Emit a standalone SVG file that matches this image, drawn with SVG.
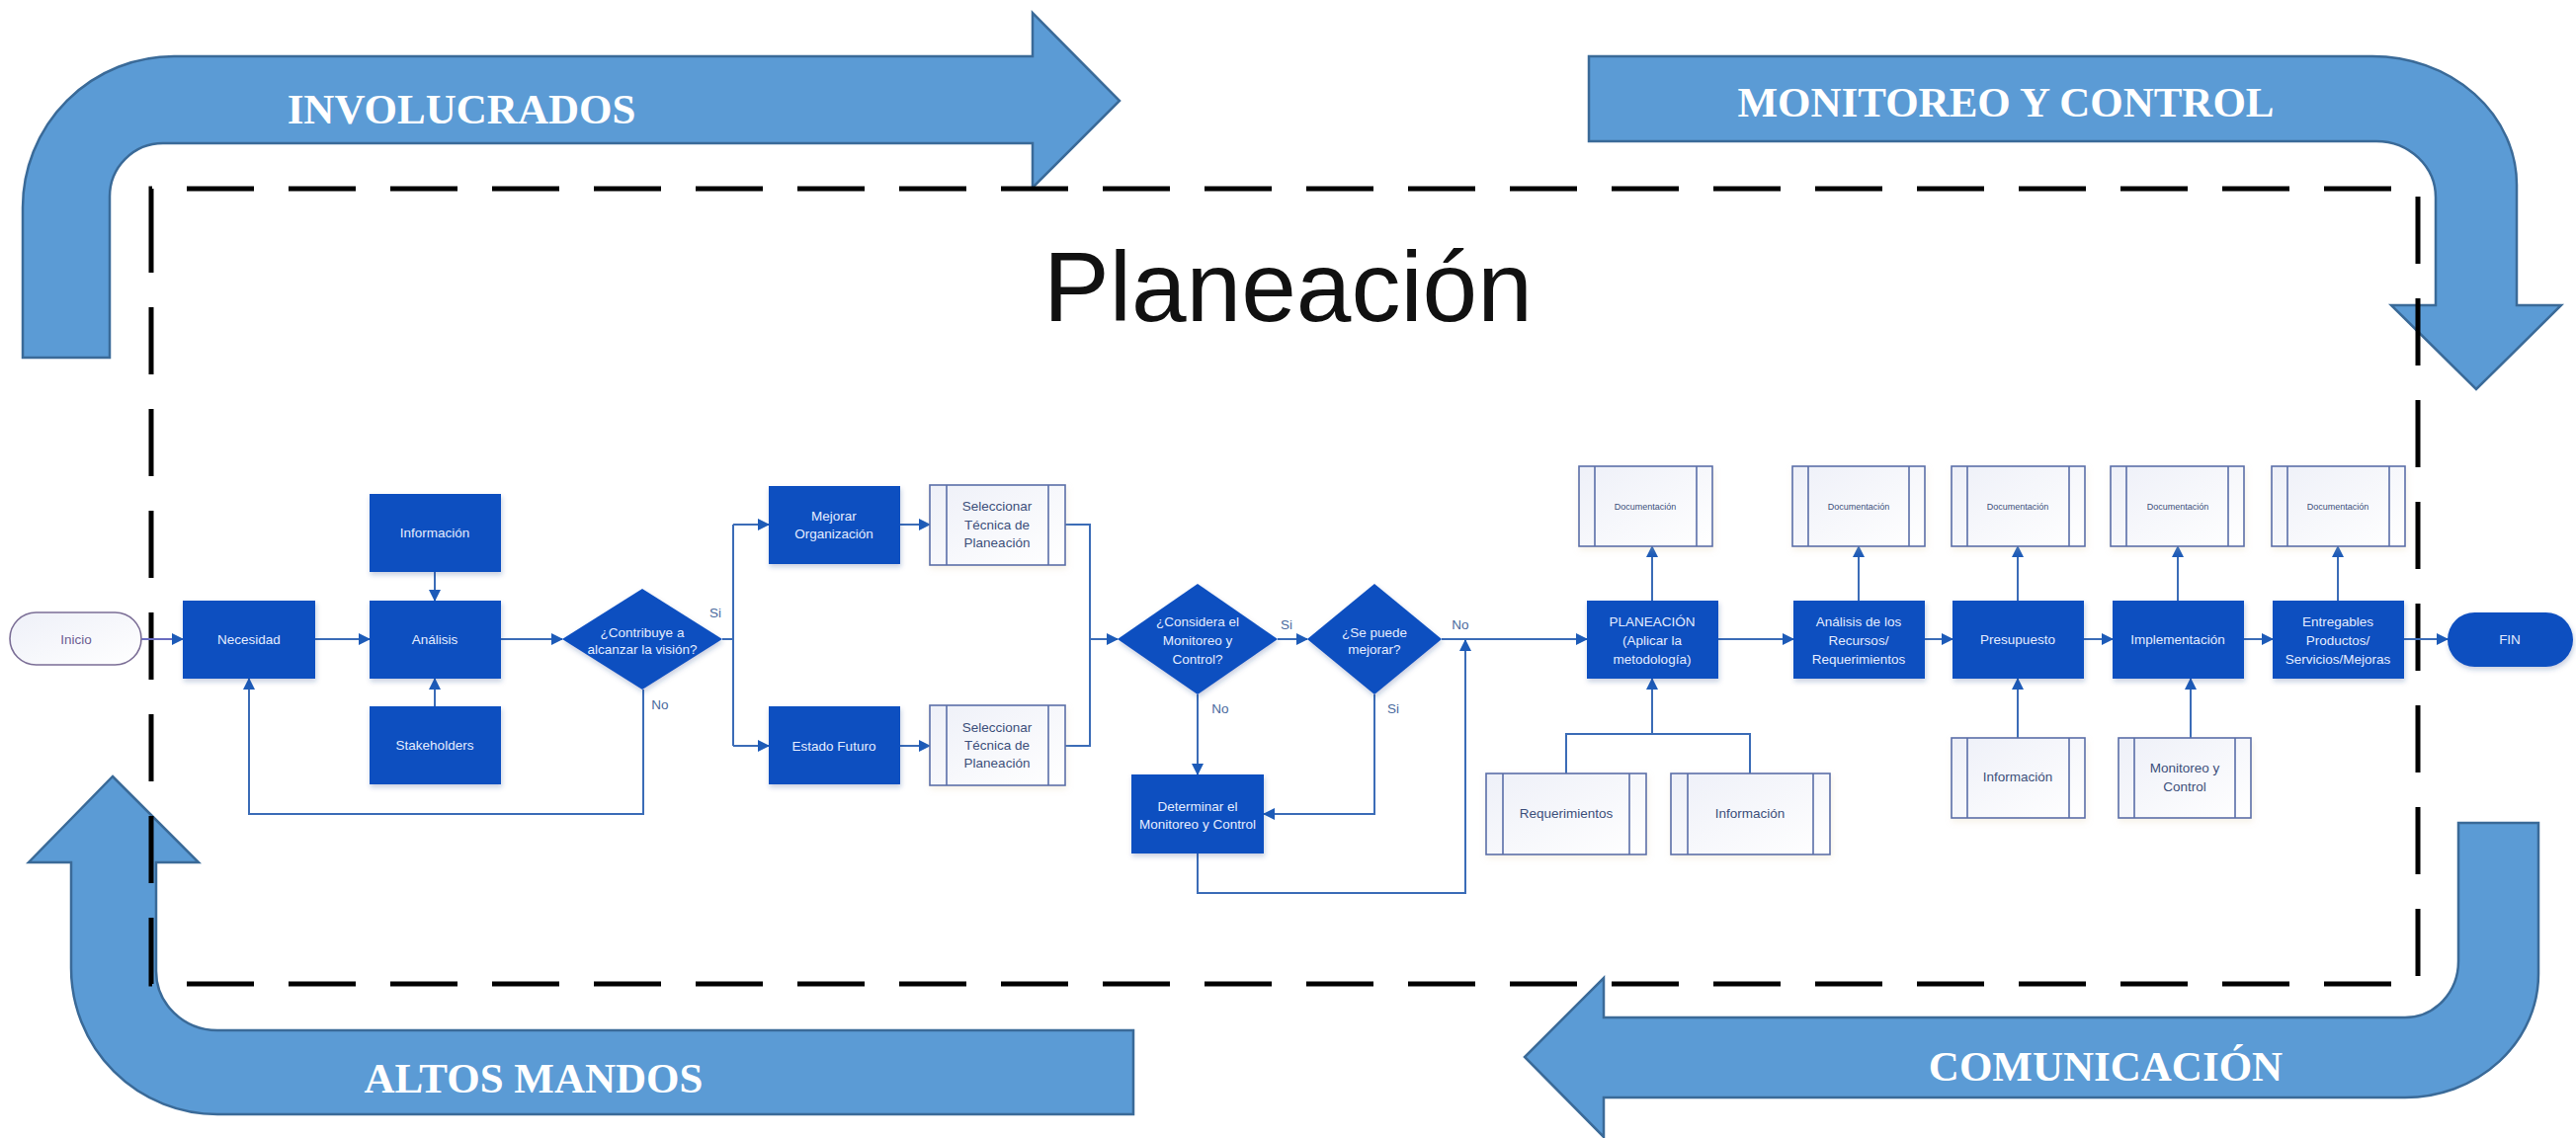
<svg xmlns="http://www.w3.org/2000/svg" width="2607" height="1152" viewBox="0 0 2607 1152">
<style>
.bg{fill:#ffffff}
.big{fill:#5b9bd5;stroke:#3a6a98;stroke-width:2.5}
.bigt{font-family:"Liberation Serif",serif;font-weight:bold;font-size:43px;fill:#ffffff;text-anchor:middle}
.frame{fill:none;stroke:#000000;stroke-width:5;stroke-dasharray:68 35}
.title{font-family:"Liberation Sans",sans-serif;font-size:100px;fill:#111111}
.box{fill:#0d4fc0;filter:url(#sh)}
.bt{font-family:"Liberation Sans",sans-serif;font-size:13.5px;fill:#e4ecff;text-anchor:middle}
.sub{fill:url(#g);stroke:#5a6ea8;stroke-width:1.6;filter:url(#sh2)}
.subl{stroke:#5a6ea8;stroke-width:1.6;fill:none}
.st{font-family:"Liberation Sans",sans-serif;font-size:13.5px;fill:#3c4f7a;text-anchor:middle}
.dt{font-family:"Liberation Sans",sans-serif;font-size:9px;fill:#3c4f7a;text-anchor:middle}
.c{fill:none;stroke:#3b6cb7;stroke-width:2}
.ca{fill:none;stroke:#3b6cb7;stroke-width:2;marker-end:url(#ah)}
.lab{font-family:"Liberation Sans",sans-serif;font-size:13.5px;fill:#4a6a9e;text-anchor:middle}
</style>
<defs>
<marker id="ah" markerUnits="userSpaceOnUse" markerWidth="12" markerHeight="12" refX="11" refY="6" orient="auto">
<path d="M0,0 L12,6 L0,12 Z" fill="#1d5bb8"/>
</marker>
<linearGradient id="g" x1="0" y1="0" x2="1" y2="1">
<stop offset="0" stop-color="#eef0f8"/>
<stop offset="1" stop-color="#ffffff"/>
</linearGradient>
<filter id="sh" x="-10%" y="-10%" width="130%" height="140%">
<feDropShadow dx="1" dy="3" stdDeviation="2.5" flood-color="#1a3a80" flood-opacity="0.25"/>
</filter>
<filter id="sh2" x="-10%" y="-10%" width="130%" height="140%">
<feDropShadow dx="1" dy="3" stdDeviation="3" flood-color="#d8c8a0" flood-opacity="0.25"/>
</filter>
</defs>
<rect class="bg" x="0" y="0" width="2607" height="1152"/>

<g id="arrow-involucrados">
<path class="big" d="M23,362 V210 A153,153 0 0 1 176,57 H1045 V13 L1133,102 L1045,190 V145 H165 A54,54 0 0 0 111,199 V362 Z"/>
<text class="bigt" x="467" y="125">INVOLUCRADOS</text>
</g>
<g id="arrow-monitoreo">
<path class="big" d="M1608,57 H2401 A146,130 0 0 1 2547,187 V309 H2592 L2506,394 L2420,309 H2465 V200 A60,57 0 0 0 2405,143 H1608 Z"/>
<text class="bigt" x="2030" y="118">MONITOREO Y CONTROL</text>
</g>
<g id="arrow-altos">
<path class="big" d="M114,786 L201,873 H158 V983 A62,60 0 0 0 220,1043 H1147 V1128 H220 A148,148 0 0 1 72,980 V873 H29 Z"/>
<text class="bigt" x="540" y="1106">ALTOS MANDOS</text>
</g>
<g id="arrow-comunicacion">
<path class="big" d="M2488,833 H2569 V986 A135,125 0 0 1 2434,1111 H1623 V1151 L1543,1070 L1623,990 V1030 H2434 A54,57 0 0 0 2488,973 Z"/>
<text class="bigt" x="2131" y="1094">COMUNICACIÓN</text>
</g>

<path class="frame" d="M153,258 V191 H2447 V996 H153 Z" stroke-dashoffset="0"/>

<text class="title" x="1056" y="325">Planeación</text>

<g id="connectors">
<path class="ca" d="M143,647 H185" style="stroke:#6a6cc0"/>
<path class="ca" d="M319,647 H374"/>
<path class="ca" d="M440,579 V608"/>
<path class="ca" d="M440,715 V687"/>
<path class="ca" d="M507,647 H569"/>
<path class="c" d="M731,647 H742 M742,531 V755"/>
<path class="ca" d="M742,531 H778"/>
<path class="ca" d="M742,755 H778"/>
<path class="ca" d="M651,698 V824 H252 V687"/>
<path class="ca" d="M911,531 H941"/>
<path class="ca" d="M911,755 H941"/>
<path class="c" d="M1078,531 H1103 V755 H1078"/>
<path class="ca" d="M1103,647 H1131"/>
<path class="ca" d="M1293,647 H1323"/>
<path class="ca" d="M1212,703 V784"/>
<path class="ca" d="M1391,703 V824 H1279"/>
<path class="ca" d="M1459,647 H1606"/>
<path class="ca" d="M1212,864 V904 H1483 V648"/>
<path class="ca" d="M1672,608 V553"/>
<path class="c" d="M1585,783 V743 H1771 V783"/>
<path class="ca" d="M1672,743 V687"/>
<path class="ca" d="M1739,647 H1815"/>
<path class="ca" d="M1881,608 V553"/>
<path class="ca" d="M1948,647 H1976"/>
<path class="ca" d="M2042,608 V553"/>
<path class="ca" d="M2042,747 V687"/>
<path class="ca" d="M2109,647 H2138"/>
<path class="ca" d="M2204,608 V553"/>
<path class="ca" d="M2217,747 V687"/>
<path class="ca" d="M2271,647 H2300"/>
<path class="ca" d="M2366,608 V553"/>
<path class="ca" d="M2433,647 H2477"/>
<text class="lab" x="724" y="625">Si</text>
<text class="lab" x="668" y="718">No</text>
<text class="lab" x="1302" y="637">Si</text>
<text class="lab" x="1478" y="637">No</text>
<text class="lab" x="1410" y="722">Si</text>
<text class="lab" x="1235" y="722">No</text>
</g>

<g id="inicio">
<rect x="10" y="620" width="133" height="53" rx="26.5" fill="url(#g)" stroke="#7b6e96" stroke-width="1.6"/>
<text x="77" y="652" font-family="Liberation Sans, sans-serif" font-size="13.5" fill="#6d5e92" text-anchor="middle">Inicio</text>
</g>
<g id="necesidad"><rect class="box" x="185" y="608" width="134" height="79"/><text class="bt" x="252" y="652">Necesidad</text></g>
<g id="informacion1"><rect class="box" x="374" y="500" width="133" height="79"/><text class="bt" x="440" y="544">Información</text></g>
<g id="analisis"><rect class="box" x="374" y="608" width="133" height="79"/><text class="bt" x="440" y="652">Análisis</text></g>
<g id="stakeholders"><rect class="box" x="374" y="715" width="133" height="79"/><text class="bt" x="440" y="759">Stakeholders</text></g>
<g id="decision-vision"><path class="box" d="M650,596 L731,647 L650,698 L569,647 Z"/><text class="bt" x="650" y="645">¿Contribuye a</text><text class="bt" x="650" y="662">alcanzar la visión?</text></g>
<g id="mejorar"><rect class="box" x="778" y="492" width="133" height="79"/><text class="bt" x="844" y="527">Mejorar</text><text class="bt" x="844" y="545">Organización</text></g>
<g id="seleccionar1"><rect class="sub" x="941" y="491" width="137" height="81"/><path class="subl" d="M958,491 V572 M1061,491 V572"/><text class="st" x="1009" y="517">Seleccionar</text><text class="st" x="1009" y="536">Técnica de</text><text class="st" x="1009" y="554">Planeación</text></g>
<g id="estado-futuro"><rect class="box" x="778" y="715" width="133" height="79"/><text class="bt" x="844" y="760">Estado Futuro</text></g>
<g id="seleccionar2"><rect class="sub" x="941" y="714" width="137" height="81"/><path class="subl" d="M958,714 V795 M1061,714 V795"/><text class="st" x="1009" y="741">Seleccionar</text><text class="st" x="1009" y="759">Técnica de</text><text class="st" x="1009" y="777">Planeación</text></g>
<g id="decision-monitoreo"><path class="box" d="M1212,591 L1293,647 L1212,703 L1131,647 Z"/><text class="bt" x="1212" y="634">¿Considera el</text><text class="bt" x="1212" y="653">Monitoreo y</text><text class="bt" x="1212" y="672">Control?</text></g>
<g id="decision-mejorar"><path class="box" d="M1391,591 L1459,647 L1391,703 L1323,647 Z"/><text class="bt" x="1391" y="645">¿Se puede</text><text class="bt" x="1391" y="662">mejorar?</text></g>
<g id="determinar"><rect class="box" x="1145" y="784" width="134" height="80"/><text class="bt" x="1212" y="821">Determinar el</text><text class="bt" x="1212" y="839">Monitoreo y Control</text></g>
<g id="planeacion"><rect class="box" x="1606" y="608" width="133" height="79"/><text class="bt" x="1672" y="634">PLANEACIÓN</text><text class="bt" x="1672" y="653">(Aplicar la</text><text class="bt" x="1672" y="672">metodología)</text></g>
<g id="doc1"><rect class="sub" x="1598" y="472" width="135" height="81"/><path class="subl" d="M1614,472 V553 M1717,472 V553"/><text class="dt" x="1665" y="516">Documentación</text></g>
<g id="requerimientos"><rect class="sub" x="1504" y="783" width="162" height="82"/><path class="subl" d="M1521,783 V865 M1649,783 V865"/><text class="st" x="1585" y="828">Requerimientos</text></g>
<g id="informacion2"><rect class="sub" x="1691" y="783" width="161" height="82"/><path class="subl" d="M1708,783 V865 M1835,783 V865"/><text class="st" x="1771" y="828">Información</text></g>
<g id="analisis-recursos"><rect class="box" x="1815" y="608" width="133" height="79"/><text class="bt" x="1881" y="634">Análisis de los</text><text class="bt" x="1881" y="653">Recursos/</text><text class="bt" x="1881" y="672">Requerimientos</text></g>
<g id="doc2"><rect class="sub" x="1814" y="472" width="134" height="81"/><path class="subl" d="M1830,472 V553 M1932,472 V553"/><text class="dt" x="1881" y="516">Documentación</text></g>
<g id="presupuesto"><rect class="box" x="1976" y="608" width="133" height="79"/><text class="bt" x="2042" y="652">Presupuesto</text></g>
<g id="doc3"><rect class="sub" x="1975" y="472" width="135" height="81"/><path class="subl" d="M1991,472 V553 M2094,472 V553"/><text class="dt" x="2042" y="516">Documentación</text></g>
<g id="informacion3"><rect class="sub" x="1975" y="747" width="135" height="81"/><path class="subl" d="M1991,747 V828 M2094,747 V828"/><text class="st" x="2042" y="791">Información</text></g>
<g id="implementacion"><rect class="box" x="2138" y="608" width="133" height="79"/><text class="bt" x="2204" y="652">Implementación</text></g>
<g id="doc4"><rect class="sub" x="2136" y="472" width="135" height="81"/><path class="subl" d="M2152,472 V553 M2255,472 V553"/><text class="dt" x="2204" y="516">Documentación</text></g>
<g id="monitoreo-control"><rect class="sub" x="2144" y="747" width="134" height="81"/><path class="subl" d="M2160,747 V828 M2262,747 V828"/><text class="st" x="2211" y="782">Monitoreo y</text><text class="st" x="2211" y="801">Control</text></g>
<g id="entregables"><rect class="box" x="2300" y="608" width="133" height="79"/><text class="bt" x="2366" y="634">Entregables</text><text class="bt" x="2366" y="653">Productos/</text><text class="bt" x="2366" y="672">Servicios/Mejoras</text></g>
<g id="doc5"><rect class="sub" x="2299" y="472" width="135" height="81"/><path class="subl" d="M2315,472 V553 M2418,472 V553"/><text class="dt" x="2366" y="516">Documentación</text></g>
<g id="fin"><rect class="box" x="2477" y="620" width="127" height="55" rx="27.5"/><text class="bt" x="2540" y="652">FIN</text></g>
</svg>
